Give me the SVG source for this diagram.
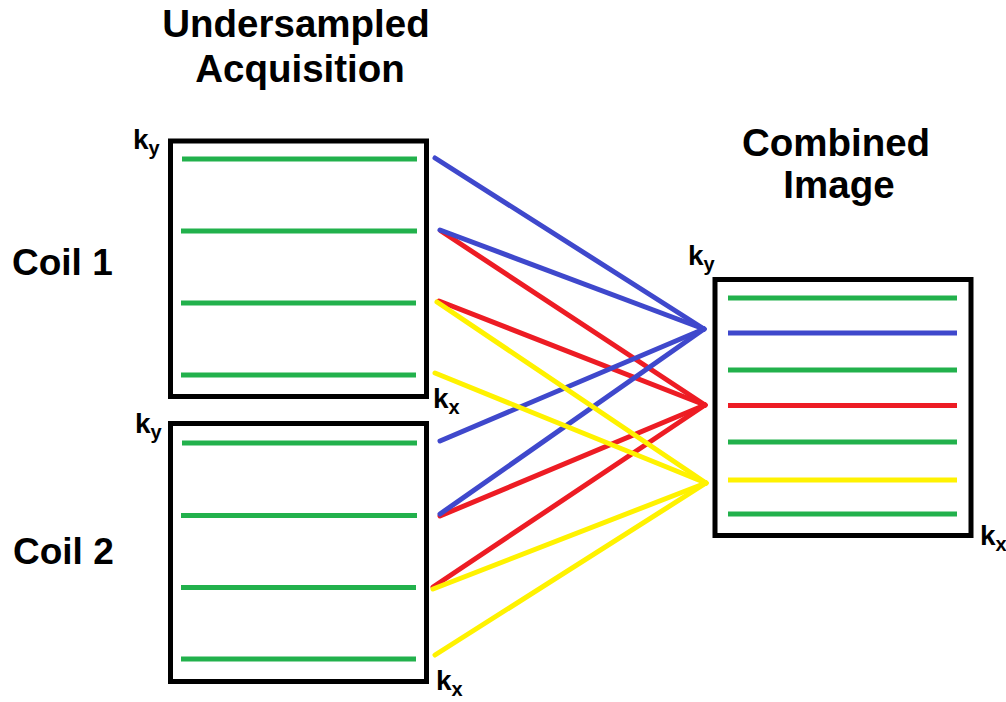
<svg xmlns="http://www.w3.org/2000/svg" width="1006" height="702" viewBox="0 0 1006 702">
  <style>
    .title { font-family: "Liberation Sans", Arial, sans-serif; font-weight: bold; font-size: 38.5px; fill: #000; }
    .label { font-family: "Liberation Sans", Arial, sans-serif; font-weight: bold; font-size: 37px; fill: #000; }
    .axis { font-family: "Liberation Sans", Arial, sans-serif; font-weight: bold; font-size: 28px; fill: #000; }
    .sub { font-size: 20px; }
    .frame { fill: #fff; stroke: #000; stroke-width: 5; }
    .row { stroke-width: 5; stroke-linecap: butt; }
    .g { stroke: #22b14c; }
    .b { stroke: #3f48cc; }
    .r { stroke: #ed1c24; }
    .y { stroke: #fff200; }
    .link { stroke-width: 5; stroke-linecap: round; fill: none; }
  </style>

  <rect width="1006" height="702" fill="#fff"/>

  <!-- headings -->
  <g id="heading-acquisition">
    <text class="title" x="296" y="37" text-anchor="middle">Undersampled</text>
    <text class="title" x="300" y="82" text-anchor="middle">Acquisition</text>
  </g>
  <g id="heading-combined">
    <text class="title" x="836" y="156" text-anchor="middle">Combined</text>
    <text class="title" x="839" y="198" text-anchor="middle">Image</text>
  </g>

  <!-- coil 1 k-space -->
  <g id="coil1">
    <text class="label" x="12" y="275">Coil 1</text>
    <rect class="frame" x="170.5" y="141" width="256" height="255.5"/>
    <line class="row g" x1="182" y1="159" x2="417" y2="159"/>
    <line class="row g" x1="181" y1="231" x2="417" y2="231"/>
    <line class="row g" x1="181" y1="303" x2="416" y2="303"/>
    <line class="row g" x1="181" y1="375" x2="416" y2="375"/>
    <text class="axis" x="133" y="149">k<tspan class="sub" dy="6">y</tspan></text>
    <text class="axis" x="433" y="408">k<tspan class="sub" dy="6">x</tspan></text>
  </g>

  <!-- coil 2 k-space -->
  <g id="coil2">
    <text class="label" x="13" y="564">Coil 2</text>
    <rect class="frame" x="170.5" y="423.5" width="256" height="258"/>
    <line class="row g" x1="182" y1="443" x2="417" y2="443"/>
    <line class="row g" x1="181" y1="515.5" x2="417" y2="515.5"/>
    <line class="row g" x1="181" y1="587.5" x2="416" y2="587.5"/>
    <line class="row g" x1="181" y1="659" x2="416" y2="659"/>
    <text class="axis" x="135" y="433">k<tspan class="sub" dy="6">y</tspan></text>
    <text class="axis" x="436" y="690">k<tspan class="sub" dy="6">x</tspan></text>
  </g>

  <!-- combined k-space -->
  <g id="combined">
    <rect class="frame" x="715" y="279.5" width="256" height="256"/>
    <line class="row g" x1="728" y1="298" x2="957" y2="298"/>
    <line class="row b" x1="728" y1="333" x2="957" y2="333"/>
    <line class="row g" x1="728" y1="370" x2="957" y2="370"/>
    <line class="row r" x1="728" y1="405.5" x2="957" y2="405.5"/>
    <line class="row g" x1="728" y1="442" x2="957" y2="442"/>
    <line class="row y" x1="728" y1="480" x2="957" y2="480"/>
    <line class="row g" x1="728" y1="514" x2="957" y2="514"/>
    <text class="axis" x="688" y="265">k<tspan class="sub" dy="6">y</tspan></text>
    <text class="axis" x="980" y="545">k<tspan class="sub" dy="6">x</tspan></text>
  </g>

  <!-- line mapping from coils to combined rows -->
  <g id="connectors" class="link">
    <g class="r">
      <line x1="441" y1="231" x2="705" y2="405"/>
      <line x1="439" y1="301" x2="705" y2="405"/>
      <line x1="440" y1="516" x2="705" y2="405"/>
      <line x1="433" y1="587" x2="705" y2="405"/>
    </g>
    <g class="b">
      <line x1="435" y1="158" x2="704" y2="329"/>
      <line x1="440" y1="230" x2="704" y2="329"/>
      <line x1="440" y1="441" x2="704" y2="329"/>
      <line x1="440" y1="514" x2="704" y2="329"/>
    </g>
    <g class="y">
      <line x1="437" y1="302" x2="706" y2="483"/>
      <line x1="435" y1="373" x2="706" y2="483"/>
      <line x1="433" y1="589" x2="706" y2="483"/>
      <line x1="435" y1="655" x2="706" y2="483"/>
    </g>
  </g>
</svg>
